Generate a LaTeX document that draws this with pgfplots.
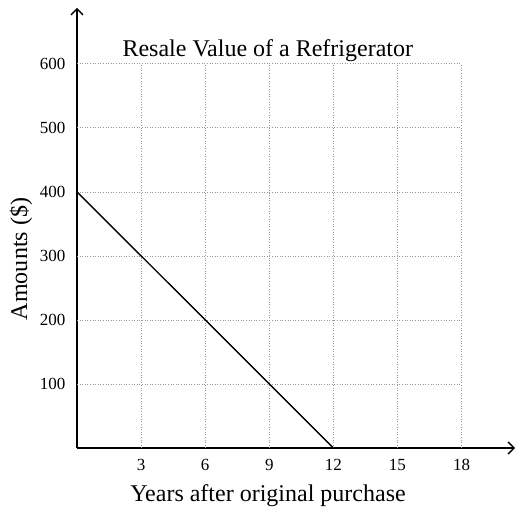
\documentclass[border=0pt]{standalone}
\usepackage{fontspec}
\setmainfont{Liberation Serif}
\usepackage{pgfplots}
\pgfplotsset{compat=1.18}
\usetikzlibrary{arrows.meta}
\begin{document}
\begin{tikzpicture}[x=1pt,y=1pt]
\path[use as bounding box] (0,0) rectangle (518,515);
\begin{axis}[
  at={(77pt,67pt)}, anchor=origin,
  scale only axis, width=438pt, height=440pt,
  xmin=0, xmax=20.5, ymin=0, ymax=687,
  axis lines=left,
  axis line style={line width=1.4pt, -{Straight Barb[length=6pt,width=12pt,line width=1.3pt]}},
  xtick={3,6,9,12,15,18}, ytick={100,200,300,400,500,600},
  major tick length=0pt,
  /pgf/number format/assume math mode=true,
  tick label style={font=\fontsize{17}{17}\selectfont},
  xticklabel style={yshift=-8pt},
  yticklabel style={xshift=-8pt},
  clip=false,
]
\foreach \x in {3,6,9,12,15,18} {
  \edef\tmp{\noexpand\draw[gray!80, dotted, line width=0.6pt] (axis cs:\x,0) -- (axis cs:\x,600);}\tmp
}
\foreach \y in {100,200,300,400,500,600} {
  \edef\tmp{\noexpand\draw[gray!80, dotted, line width=0.6pt] (axis cs:0,\y) -- (axis cs:18,\y);}\tmp
}
\addplot[black, line width=1.4pt] coordinates {(0,400) (12,0)};
\node at (axis cs:8.93,620) {\fontsize{24}{24}\selectfont Resale Value of a Refrigerator};
\end{axis}
\node at (268,19) {\fontsize{24}{24}\selectfont Years after original purchase};
\node[rotate=90] at (21,256) {\fontsize{24}{24}\selectfont Amounts (\$)};
\end{tikzpicture}
\end{document}
